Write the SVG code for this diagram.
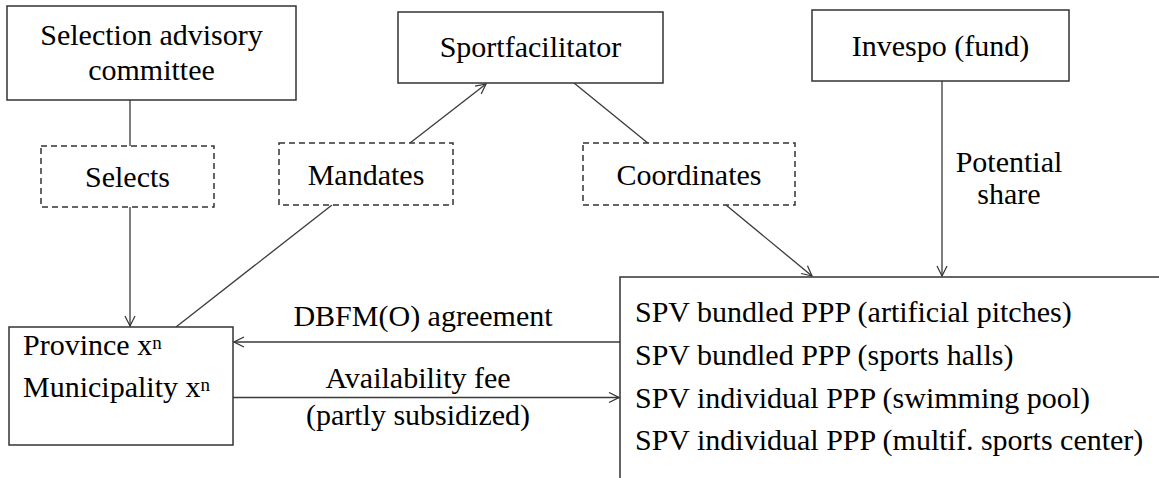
<svg xmlns="http://www.w3.org/2000/svg" width="1159" height="478" viewBox="0 0 1159 478" font-family="'Liberation Serif', 'Times New Roman', 'DejaVu Serif', serif">
  <defs>
    <!-- open chevron arrowhead -->
    <marker id="arrow" viewBox="0 0 12 12" refX="11" refY="6" markerWidth="12" markerHeight="12" markerUnits="userSpaceOnUse" orient="auto">
      <path d="M1,1 L11,6 L1,11" fill="none" stroke="#333" stroke-width="1.2"/>
    </marker>
    <style>
      text { font-family: 'Liberation Serif', 'Times New Roman', 'DejaVu Serif', serif; font-size: 30px; fill: #000; }
      .mid { text-anchor: middle; }
      .sup { font-size: 19px; }
      .box { fill: #fff; stroke: #333; stroke-width: 1.5; }
      .dash { fill: #fff; stroke: #333; stroke-width: 1.5; stroke-dasharray: 6 4; }
      .link { fill: none; stroke: #3a3a3a; stroke-width: 1.3; }
      .arrow { fill: none; stroke: #3a3a3a; stroke-width: 1.3; marker-end: url(#arrow); }
    </style>
  </defs>

  <!-- connectors -->
  <g id="connectors">
    <line class="link" x1="130" y1="100" x2="130" y2="146"/>
    <line class="arrow" x1="130" y1="207" x2="130" y2="326"/>
    <line class="link" x1="176" y1="327" x2="332" y2="205"/>
    <line class="arrow" x1="410" y1="143" x2="486" y2="84"/>
    <line class="link" x1="574" y1="83" x2="649" y2="144"/>
    <line class="arrow" x1="726" y1="205" x2="812" y2="276"/>
    <line class="arrow" x1="942" y1="81" x2="942" y2="276"/>
    <line class="arrow" x1="620" y1="342" x2="234" y2="342"/>
    <line class="arrow" x1="233" y1="397.5" x2="619" y2="397.5"/>
  </g>

  <g id="selection-committee">
    <rect class="box" x="7" y="6" width="289" height="94"/>
    <text class="mid" x="151.5" y="45">Selection advisory</text>
    <text class="mid" x="151.5" y="80">committee</text>
  </g>

  <g id="sportfacilitator">
    <rect class="box" x="398" y="12" width="265" height="71"/>
    <text class="mid" x="530.5" y="57">Sportfacilitator</text>
  </g>

  <g id="invespo">
    <rect class="box" x="812" y="10" width="257" height="71"/>
    <text class="mid" x="940.5" y="56">Invespo (fund)</text>
  </g>

  <g id="selects">
    <rect class="dash" x="41" y="146" width="173" height="61"/>
    <text class="mid" x="127.5" y="187">Selects</text>
  </g>

  <g id="mandates">
    <rect class="dash" x="279" y="143" width="174" height="62"/>
    <text class="mid" x="366" y="185">Mandates</text>
  </g>

  <g id="coordinates">
    <rect class="dash" x="583" y="143" width="212" height="62"/>
    <text class="mid" x="689" y="185">Coordinates</text>
  </g>

  <g id="potential-share">
    <text class="mid" x="1009" y="172">Potential</text>
    <text class="mid" x="1009" y="204">share</text>
  </g>

  <g id="province">
    <rect class="box" x="9" y="327" width="224" height="118"/>
    <text x="23" y="355">Province x<tspan class="sup" dy="-6">n</tspan></text>
    <text x="23" y="397">Municipality x<tspan class="sup" dy="-6">n</tspan></text>
  </g>

  <g id="edge-labels">
    <text class="mid" x="423" y="326">DBFM(O) agreement</text>
    <text class="mid" x="418" y="388">Availability fee</text>
    <text class="mid" x="418" y="425">(partly subsidized)</text>
  </g>

  <g id="spv">
    <rect class="box" x="620" y="277" width="560" height="230"/>
    <text x="635" y="322">SPV bundled PPP (artificial pitches)</text>
    <text x="635" y="365">SPV bundled PPP (sports halls)</text>
    <text x="635" y="408">SPV individual PPP (swimming pool)</text>
    <text x="635" y="450">SPV individual PPP (multif. sports center)</text>
  </g>
</svg>
